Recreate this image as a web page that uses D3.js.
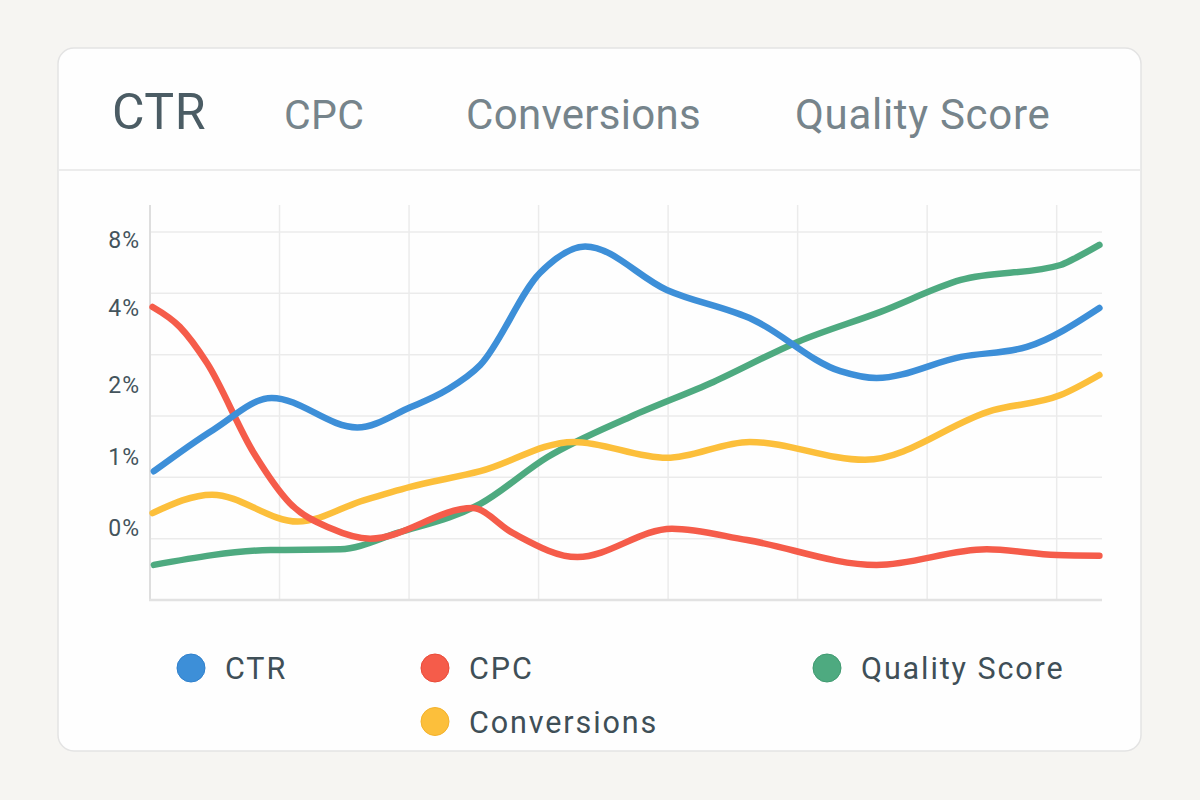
<!DOCTYPE html>
<html><head><meta charset="utf-8">
<script src="https://cdn.jsdelivr.net/npm/d3@7"></script>
<style>
html,body{margin:0;padding:0;background:#f6f5f2;}
svg{display:block;font-family:Roboto,"Noto Sans",sans-serif;}
</style></head>
<body><svg id="c" width="1200" height="800"></svg>
<script>
// ---- data ----
const tabs = ["CTR", "CPC", "Conversions", "Quality Score"];
const seriesNames = ["CTR", "CPC", "Conversions", "Quality Score"];
const yTickValues = [0, 1, 2, 4, 8];
const gridCols = [1, 2, 3, 4, 5, 6, 7];

const ctrX = [0.03, 0.49, 0.94, 1.60, 2.01, 2.29, 2.55, 3.01, 3.36, 3.99, 4.66, 5.33, 5.61, 6.26, 6.77, 7.33];
const ctrY = [0.80, 1.38, 1.82, 1.41, 1.69, 1.93, 2.52, 6.06, 7.62, 5.06, 3.69, 2.36, 2.18, 2.73, 2.99, 4.00];

const cpcX = [0.02, 0.23, 0.44, 0.80, 1.08, 1.39, 1.70, 2.49, 2.80, 3.30, 4.03, 4.61, 5.61, 6.46, 7.00, 7.33];
const cpcY = [4.06, 3.51, 2.57, 1.06, 0.35, 0.00, -0.15, 0.28, -0.07, -0.41, -0.01, -0.17, -0.52, -0.30, -0.38, -0.39];

const convX = [0.02, 0.48, 1.14, 1.65, 2.01, 2.55, 3.27, 3.99, 4.63, 5.52, 6.51, 7.03, 7.33];
const convY = [0.21, 0.47, 0.09, 0.39, 0.58, 0.80, 1.21, 0.99, 1.21, 0.96, 1.65, 1.86, 2.26];

const qsX = [0.03, 0.93, 1.47, 1.91, 2.55, 3.07, 3.71, 4.35, 5.00, 5.64, 6.26, 7.03, 7.13, 7.33];
const qsY = [-0.52, -0.31, -0.30, -0.07, 0.34, 1.00, 1.56, 2.08, 3.12, 3.90, 5.65, 6.53, 6.88, 7.71];

// ---- styles / layout ----
const colors = {"CTR": "#3d8fd8", "CPC": "#f55c4a", "Conversions": "#fcbf3b", "Quality Score": "#4eaa80"};
const strokes = {"CTR": "#2f80cc", "CPC": "#ea4a38", "Conversions": "#f4b22c", "Quality Score": "#3f9a70"};
const tabLayout = {
  "CTR": {x: 112, size: 50, ls: 0.5, color: "#4b5c64"},
  "CPC": {x: 284, size: 41, ls: 0.3, color: "#76848b"},
  "Conversions": {x: 466, size: 42, ls: 0.3, color: "#76848b"},
  "Quality Score": {x: 795, size: 42, ls: 0.7, color: "#76848b"}};
const legendLayout = {"CTR": [191, 668], "CPC": [435, 668], "Conversions": [435, 721.5], "Quality Score": [827, 668]};

const svg = d3.select("#c");

// card
svg.append("rect").attr("x", 58).attr("y", 48).attr("width", 1083).attr("height", 703)
  .attr("rx", 16).attr("fill", "#fefefe").attr("stroke", "#e3e3e3").attr("stroke-width", 1.5);
svg.append("line").attr("x1", 59).attr("x2", 1140).attr("y1", 170).attr("y2", 170)
  .attr("stroke", "#ececec").attr("stroke-width", 2);

// tabs
svg.selectAll("text.tab").data(tabs).join("text").attr("class", "tab")
  .attr("x", d => tabLayout[d].x).attr("y", 129)
  .attr("font-size", d => tabLayout[d].size).attr("fill", d => tabLayout[d].color)
  .attr("letter-spacing", d => tabLayout[d].ls + "px")
  .text(d => d);

// scales
const x = d3.scaleLinear().domain([0, 7.35]).range([150, 1102]);
const y = d3.scaleLinear().domain(yTickValues).range([528, 457, 385, 308, 240]);
const gridY = d3.scaleLinear().domain([0, 6]).range([600, 232]);

const g = svg.append("g");
// horizontal grid
g.selectAll("line.hg").data(d3.range(1, 7)).join("line").attr("class", "hg")
  .attr("x1", x(0)).attr("x2", x(7.35)).attr("y1", d => gridY(d)).attr("y2", d => gridY(d))
  .attr("stroke", "#ebebeb").attr("stroke-width", 1.5);
// vertical grid
g.selectAll("line.vg").data(gridCols).join("line").attr("class", "vg")
  .attr("x1", d => x(d)).attr("x2", d => x(d)).attr("y1", 205).attr("y2", 600)
  .attr("stroke", "#ebebeb").attr("stroke-width", 1.5);
// axes lines
g.append("line").attr("x1", x(0)).attr("x2", x(0)).attr("y1", 205).attr("y2", 601)
  .attr("stroke", "#dedede").attr("stroke-width", 2);
g.append("line").attr("x1", x(0) - 1).attr("x2", x(7.35)).attr("y1", 600).attr("y2", 600)
  .attr("stroke", "#e2e2e2").attr("stroke-width", 2.5);

// y tick labels
const yAxis = d3.axisLeft(y).tickValues(yTickValues).tickFormat(d => d + "%").tickSize(0).tickPadding(0);
const ya = svg.append("g").attr("transform", "translate(140,0)").call(yAxis);
ya.select(".domain").remove();
ya.selectAll("text").attr("font-family", "Roboto, sans-serif").attr("font-size", 23)
  .attr("fill", "#44545c").attr("letter-spacing", "1px");

// lines
const seriesData = [
  {name: "CTR", xs: ctrX, ys: ctrY},
  {name: "CPC", xs: cpcX, ys: cpcY},
  {name: "Conversions", xs: convX, ys: convY},
  {name: "Quality Score", xs: qsX, ys: qsY}
];
const drawOrder = ["Quality Score", "Conversions", "CPC", "CTR"];
const line = d3.line().x(d => x(d[0])).y(d => y(d[1])).curve(d3.curveMonotoneX);
drawOrder.forEach(n => {
  const s = seriesData.find(e => e.name === n);
  const pts = s.xs.map((v, i) => [v, s.ys[i]]);
  svg.append("path").datum(pts).attr("d", line).attr("fill", "none")
    .attr("stroke", colors[n]).attr("stroke-width", 6.5)
    .attr("stroke-linecap", "round").attr("stroke-linejoin", "round");
});

// legend
const lg = svg.selectAll("g.lg").data(seriesNames).join("g").attr("class", "lg")
  .attr("transform", d => `translate(${legendLayout[d][0]},${legendLayout[d][1]})`);
lg.append("circle").attr("r", 14).attr("fill", d => colors[d]).attr("stroke", d => strokes[d]).attr("stroke-width", 1);
lg.append("text").attr("x", 34).attr("y", 11).attr("font-size", 30.5).attr("letter-spacing", "1.9px")
  .attr("fill", "#3f4f57").text(d => d);
</script></body></html>
